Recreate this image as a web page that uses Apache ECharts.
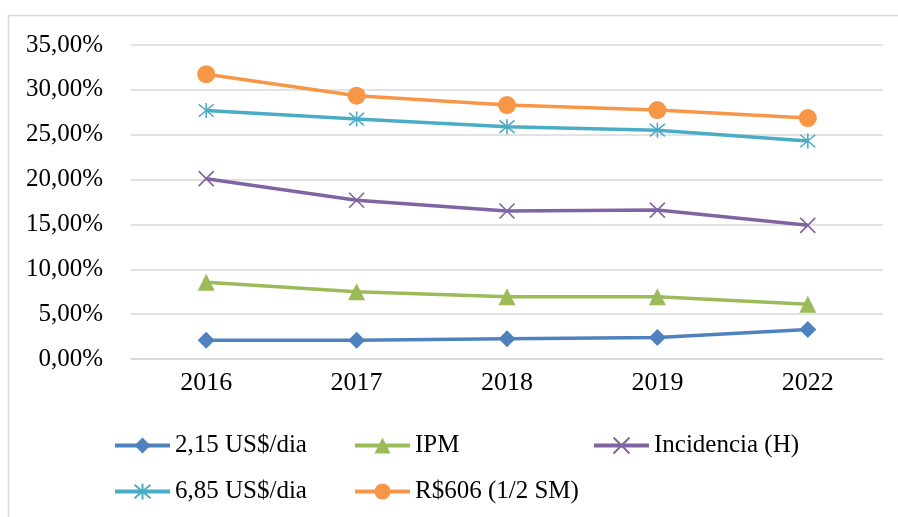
<!DOCTYPE html>
<html><head><meta charset="utf-8">
<script src="https://cdn.jsdelivr.net/npm/echarts@6/dist/echarts.min.js"></script>
<style>html,body{margin:0;padding:0;background:#fff}#c{width:898px;height:517px}</style>
</head><body><div id="c"></div>
<script>
const categories = ['2016','2017','2018','2019','2022'];
const s215 = [2.1, 2.1, 2.25, 2.4, 3.3];
const ipm = [8.55, 7.5, 6.95, 6.95, 6.1];
const incid = [20.1, 17.7, 16.5, 16.6, 14.9];
const s685 = [27.7, 26.75, 25.9, 25.5, 24.3];
const r606 = [31.75, 29.35, 28.3, 27.75, 26.85];
const names = ['2,15 US$/dia','IPM','Incidencia (H)','6,85 US$/dia','R$606 (1/2 SM)'];
const yTicks = {min:0, max:35, interval:5};

const FONT = '"Liberation Serif","Times New Roman",serif';
const colors = ['#4F81BD','#9BBB59','#8064A2','#4BACC6','#F79646'];
const symbols = ['diamond','triangle','path://M0,0L10,10M10,0L0,10','path://M0,0L10,10M10,0L0,10M5,-1L5,11','circle'];
const sizes = [17,17,15,15,18];
const datasets = [s215, ipm, incid, s685, r606];

const series = datasets.map((d,i)=>{
  const stroke = i===2||i===3;
  return {
    name: names[i], type:'line', data:d, symbol:symbols[i], symbolSize:sizes[i],
    lineStyle:{color:colors[i], width:3.5},
    itemStyle: stroke ? {color:'rgba(0,0,0,0)', borderColor:colors[i], borderWidth:1.6} : {color:colors[i], borderWidth:0},
    emphasis:{disabled:true}, animation:false, z: 2
  };
});

const legPos = [[108,428],[348,428],[587,428],[108,474],[348,474]];
const legends = names.map((n,i)=>({
  data:[n], left:legPos[i][0], top:legPos[i][1], itemWidth:55, itemHeight:20, itemGap:5,
  lineStyle:{width:4},
  textStyle:{fontFamily:FONT, fontSize:25, color:'#000'}, selectedMode:false
}));

const chart = echarts.init(document.getElementById('c'), null, {renderer:'canvas'});
chart.setOption({
  backgroundColor:'#fff',
  animation:false,
  color: colors,
  graphic:[{type:'rect', shape:{x:8.5,y:15.5,width:900,height:520}, style:{fill:'none', stroke:'#D9D9D9', lineWidth:1.5}, z:0}],
  grid:{left:131, right:15, top:45, bottom:158},
  legend: legends,
  xAxis:{type:'category', data:categories, boundaryGap:true,
    axisLine:{show:true, lineStyle:{color:'#D9D9D9', width:1.5}}, axisTick:{show:false},
    axisLabel:{fontFamily:FONT, fontSize:26, color:'#000', margin:11}},
  yAxis:{type:'value', min:yTicks.min, max:yTicks.max, interval:yTicks.interval,
    axisLine:{show:false}, axisTick:{show:false},
    splitLine:{lineStyle:{color:'#D9D9D9', width:1.5}},
    axisLabel:{fontFamily:FONT, fontSize:25, color:'#000', margin:28,
      formatter:v=>v.toFixed(2).replace('.',',')+'%'}},
  series: series
});
</script></body></html>
